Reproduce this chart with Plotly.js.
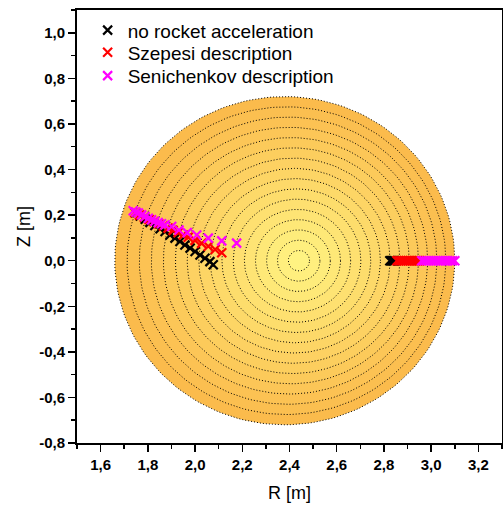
<!DOCTYPE html>
<html>
<head>
<meta charset="utf-8">
<script src="https://cdn.plot.ly/plotly-3.0.1.min.js"></script>
<style>html,body{margin:0;padding:0;background:#fff;}#chart{width:503px;height:506px;}</style>
</head>
<body>
<div id="chart"></div>
<script>
// Flux-surface contours (minor radius and centre R of each dotted ring)
const ringRadius = [0.720,0.675,0.630,0.585,0.540,0.495,0.450,0.405,0.360,0.315,0.270,0.225,0.180,0.135,0.090,0.045];
const ringCenterR = [2.380,2.387,2.394,2.400,2.406,2.412,2.417,2.421,2.425,2.429,2.432,2.434,2.436,2.438,2.439,2.440];
const ringCenterZ = 0.0;

// Series: no rocket acceleration
const blackR = [1.748,1.768,1.789,1.809,1.830,1.852,1.873,1.894,1.915,1.936,1.957,1.979,2.000,2.021,2.042,2.063,2.077,
                2.825,2.830,2.835,2.840,2.845];
const blackZ = [0.210,0.196,0.182,0.168,0.154,0.140,0.128,0.113,0.099,0.084,0.069,0.055,0.040,0.025,0.011,-0.004,-0.018,
                0,0,0,0,0];
// Series: Szepesi description
const redR = [1.745,1.765,1.785,1.805,1.826,1.846,1.866,1.886,1.907,1.928,1.950,1.971,2.000,2.028,2.056,2.085,2.113,
              2.855,2.863,2.871,2.879,2.887,2.895,2.903,2.911,2.919,2.927,2.935,2.943,2.951];
const redZ = [0.210,0.200,0.191,0.181,0.171,0.162,0.152,0.143,0.133,0.123,0.113,0.103,0.089,0.076,0.063,0.049,0.035,
              0,0,0,0,0,0,0,0,0,0,0,0,0];
// Series: Senichenkov description
const magR = [1.738,1.749,1.760,1.774,1.788,1.802,1.816,1.830,1.844,1.858,1.873,1.901,1.932,1.967,2.007,2.056,2.113,2.176,
              2.960,2.970,2.980,2.990,3.000,3.010,3.020,3.030,3.040,3.050,3.060,3.070,3.080,3.090,3.100];
const magZ = [0.219,0.214,0.209,0.201,0.194,0.186,0.179,0.173,0.167,0.162,0.157,0.150,0.135,0.123,0.113,0.099,0.087,0.077,
              0,0,0,0,0,0,0,0,0,0,0,0,0,0,0];

const seriesNames = ["no rocket acceleration","Szepesi description","Senichenkov description"];
const xTickVals = [1.6,1.8,2.0,2.2,2.4,2.6,2.8,3.0,3.2];
const xTickText = ["1,6","1,8","2,0","2,2","2,4","2,6","2,8","3,0","3,2"];
const yTickVals = [-0.8,-0.6,-0.4,-0.2,0.0,0.2,0.4,0.6,0.8,1.0];
const yTickText = ["-0,8","-0,6","-0,4","-0,2","0,0","0,2","0,4","0,6","0,8","1,0"];

const outerColor = [251,187,76];
const innerColor = [255,243,130];

const traces = [];
const n = ringRadius.length;
for (let k = 0; k < n; k++) {
  const t = n > 1 ? k/(n-1) : 0;
  const c = outerColor.map((v,i)=>Math.round(v + (innerColor[i]-v)*t));
  const xs = [], ys = [];
  for (let a = 0; a <= 360; a += 2) {
    const th = a*Math.PI/180;
    xs.push(ringCenterR[k] + ringRadius[k]*Math.cos(th));
    ys.push(ringCenterZ + ringRadius[k]*Math.sin(th));
  }
  traces.push({x:xs, y:ys, type:'scatter', mode:'lines', fill:'toself',
    fillcolor:`rgb(${c[0]},${c[1]},${c[2]})`,
    line:{color:'#000', width:1, dash:'1px,2px'}, showlegend:false, hoverinfo:'skip'});
}
const mk = (col)=>({symbol:'x-thin-open', size:9, color:col, line:{color:col, width:2.2}});
traces.push({x:blackR, y:blackZ, type:'scatter', mode:'markers', name:seriesNames[0], marker:mk('#000000'), legend:'legend'});
traces.push({x:redR, y:redZ, type:'scatter', mode:'markers', name:seriesNames[1], marker:mk('#ff0000'), legend:'legend2'});
traces.push({x:magR, y:magZ, type:'scatter', mode:'markers', name:seriesNames[2], marker:mk('#ff00ff'), legend:'legend3'});

const axisCommon = {
  showgrid:false, zeroline:false, showline:true, linecolor:'#000', linewidth:2,
  mirror:true, ticks:'outside', ticklen:7, tickwidth:1.5, tickcolor:'#000',
  tickfont:{family:'Arial', size:15, color:'#000', weight:'bold'},
  minor:{ticks:'outside', ticklen:4, tickwidth:1.5, tickcolor:'#000', dtick:0.1, showgrid:false}
};
const legendBase = {x:0.025, xanchor:'left', yanchor:'top', bgcolor:'rgba(0,0,0,0)',
          font:{family:'Arial', size:19, color:'#000'}, borderwidth:0};
const layout = {
  width:503, height:506,
  margin:{l:77, r:1, t:10, b:63},
  paper_bgcolor:'#fff', plot_bgcolor:'#fff',
  showlegend:true,
  legend:Object.assign({}, legendBase, {y:0.997}),
  legend2:Object.assign({}, legendBase, {y:0.946}),
  legend3:Object.assign({}, legendBase, {y:0.892}),
  xaxis:Object.assign({}, axisCommon, {range:[1.5,3.3], tickmode:'array', tickvals:xTickVals, ticktext:xTickText,
          title:{text:'R [m]', font:{family:'Arial', size:18, color:'#000'}, standoff:14}}),
  yaxis:Object.assign({}, axisCommon, {range:[-0.8,1.1], tickmode:'array', tickvals:yTickVals, ticktext:yTickText,
          title:{text:'Z [m]', font:{family:'Arial', size:18, color:'#000'}, standoff:4}})
};
Plotly.newPlot('chart', traces, layout, {displayModeBar:false, staticPlot:true});
</script>
</body>
</html>
